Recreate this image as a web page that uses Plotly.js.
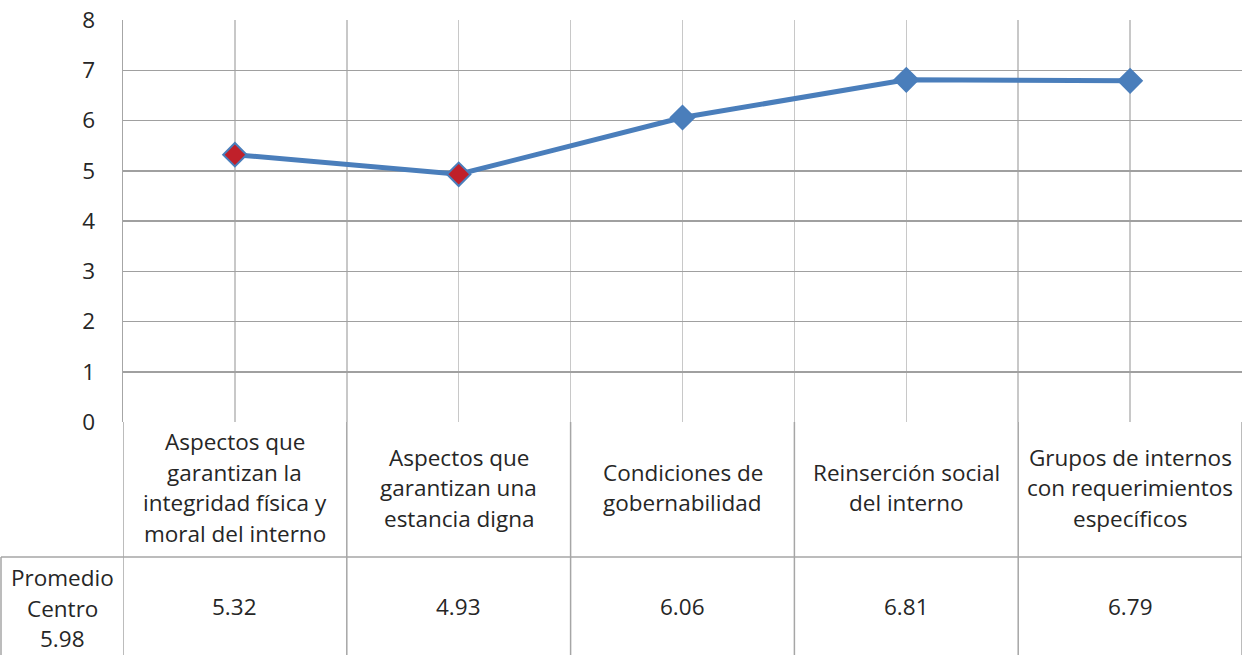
<!DOCTYPE html>
<html><head><meta charset="utf-8">
<script src="https://cdn.plot.ly/plotly-3.0.1.min.js"></script>
<style>html,body{margin:0;padding:0;background:#fff}#chart{width:1242px;height:655px}</style>
</head><body><div id="chart"></div>
<script>
const categories = [
  "Aspectos que<br>garantizan la<br>integridad física y<br>moral del interno",
  "Aspectos que<br>garantizan una<br>estancia digna",
  "Condiciones de<br>gobernabilidad",
  "Reinserción social<br>del interno",
  "Grupos de internos<br>con requerimientos<br>específicos"
];
const values = [5.32, 4.93, 6.06, 6.81, 6.79];
const valueLabels = ["5.32", "4.93", "6.06", "6.81", "6.79"];
const rowHeader = "Promedio<br>Centro<br>5.98";
const yTicks = [0, 1, 2, 3, 4, 5, 6, 7, 8];

const W = 1242, H = 655, ML = 123, MT = 20, MB = 233;
const plotH = H - MT - MB, plotW = W - ML;
const FONT = "Open Sans, sans-serif";
const FS = 22.5;
const LS = 30.5;
const TXT = "#262626";
const BORDER = "#a6a6a6";
const blue = "#4a7ebb", red = "#c0202a";
const markerFill = values.map((v, i) => i < 2 ? red : blue);

const xs = categories.map((c, i) => i);
const rowSplit = -(557 - 422) / plotH;
const rowBottom = -(H - 422) / plotH;
const leftPaper = -(ML - 1) / plotW;

const shapes = [];
shapes.push({type:'line', xref:'paper', yref:'paper', x0:leftPaper, x1:1, y0:rowSplit, y1:rowSplit, line:{color:BORDER, width:1.5}});
for (let i = 0; i <= categories.length; i++) {
  shapes.push({type:'line', xref:'x', yref:'paper', x0:i-0.5, x1:i-0.5, y0:0, y1:rowBottom, line:{color:BORDER, width:1.5}});
}
shapes.push({type:'line', xref:'paper', yref:'paper', x0:leftPaper, x1:leftPaper, y0:rowSplit, y1:rowBottom, line:{color:BORDER, width:1.5}});

const annotations = [];
function addLines(text, x, xref, yc) {
  const lines = text.split('<br>');
  const n = lines.length;
  lines.forEach((ln, k) => {
    annotations.push({x:x, xref:xref, y:yc, yref:'paper', yshift:((n-1)/2 - k) * LS,
      text:ln, showarrow:false, xanchor:'center', yanchor:'middle', align:'center',
      font:{family:FONT, size:FS, color:TXT}});
  });
}
const yCat = (0 + rowSplit)/2 + 2/plotH;
const yVal = (rowSplit + rowBottom)/2;
const yHead = (rowSplit + rowBottom)/2 - 2/plotH;
categories.forEach((c, i) => {
  addLines(c, i, 'x', yCat);
  addLines(valueLabels[i], i, 'x', yVal);
});
addLines(rowHeader, leftPaper/2, 'paper', yHead);

const trace = {
  x: xs, y: values, type:'scatter', mode:'lines+markers',
  line:{color:blue, width:5},
  marker:{symbol:'diamond', size:18, color:markerFill, line:{color:blue, width:2}},
  cliponaxis:false, hoverinfo:'skip'
};

const layout = {
  width:W, height:H,
  margin:{l:ML, r:0, t:MT, b:MB, pad:0},
  paper_bgcolor:'#fff', plot_bgcolor:'#fff',
  showlegend:false,
  font:{family:FONT, size:FS, color:TXT},
  xaxis:{range:[-0.5, categories.length-0.5], tick0:0, dtick:0.5, showticklabels:false, ticks:'',
    showgrid:true, gridcolor:'#c8c8c8', gridwidth:1.5, zeroline:false, showline:false, fixedrange:true},
  yaxis:{range:[0, 8], tickvals:yTicks, ticktext:yTicks.map(String), ticks:'', ticklabelstandoff:22,
    showgrid:true, gridcolor:'#a0a0a0', gridwidth:1.5, zeroline:false, showline:true, linecolor:BORDER, linewidth:1.5,
    mirror:false, tickfont:{family:FONT, size:FS, color:TXT}, fixedrange:true},
  shapes:shapes, annotations:annotations
};
Plotly.newPlot('chart', [trace], layout, {displayModeBar:false, staticPlot:true});
</script></body></html>
